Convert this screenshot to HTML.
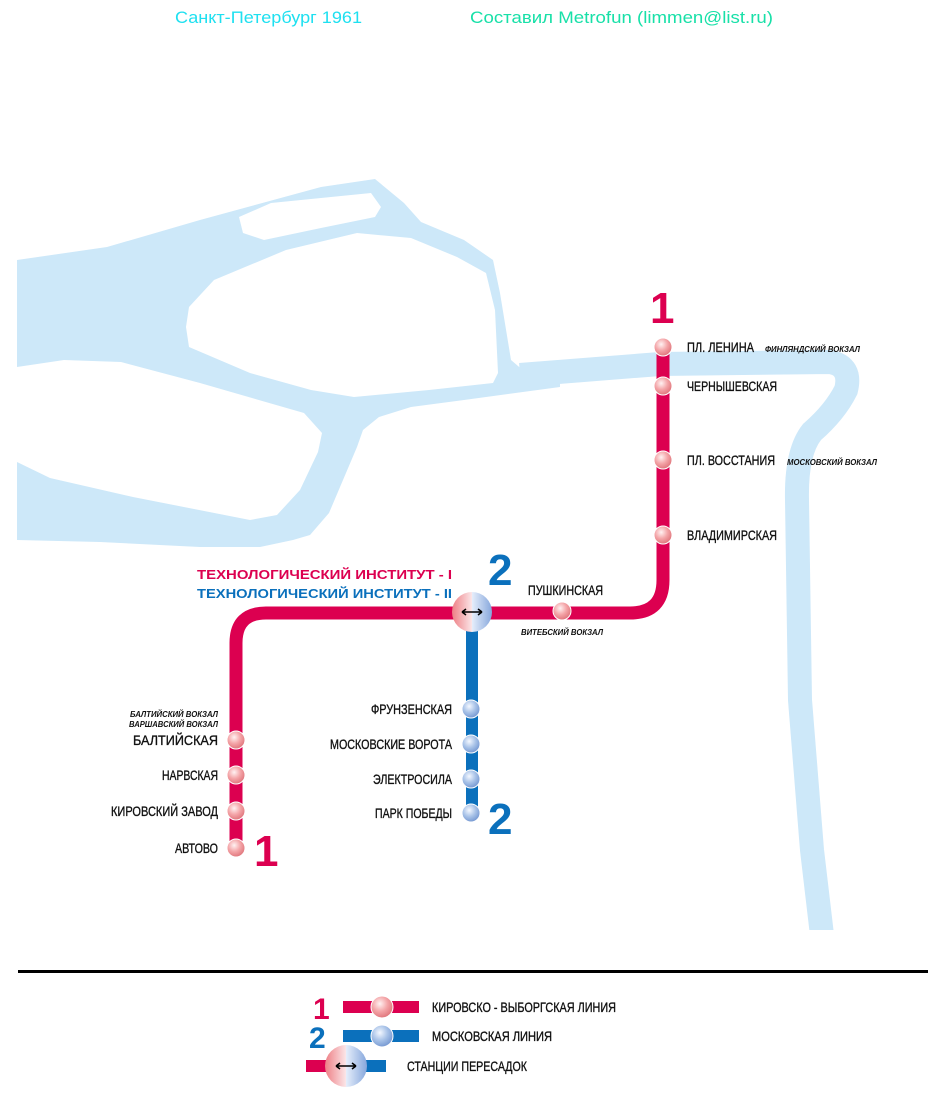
<!DOCTYPE html>
<html><head><meta charset="utf-8"><style>
html,body{margin:0;padding:0;background:#fff;}
svg{display:block;}
.st{font-family:"Liberation Sans",sans-serif;font-size:14px;fill:#111;stroke:#111;stroke-width:0.35px;}
.sm{font-family:"Liberation Sans",sans-serif;font-size:8px;font-style:italic;font-weight:bold;fill:#111;}
.num{font-family:"Liberation Sans",sans-serif;font-weight:bold;font-size:44px;}
</style></head><body>
<svg width="950" height="1100" viewBox="0 0 950 1100" xmlns="http://www.w3.org/2000/svg">
<defs>
<radialGradient id="rg" cx="0.4" cy="0.35" r="0.7">
<stop offset="0" stop-color="#fff2f2"/><stop offset="0.5" stop-color="#f4a5a8"/><stop offset="1" stop-color="#dd6f76"/></radialGradient>
<radialGradient id="bg" cx="0.4" cy="0.35" r="0.7">
<stop offset="0" stop-color="#f4f8ff"/><stop offset="0.5" stop-color="#a9c3e8"/><stop offset="1" stop-color="#6f93cf"/></radialGradient>
<linearGradient id="tg" x1="0" x2="1" y1="0" y2="0">
<stop offset="0" stop-color="#ee7f85"/><stop offset="0.5" stop-color="#fbe6e8"/><stop offset="0.5" stop-color="#e6eefb"/><stop offset="1" stop-color="#86a7dc"/></linearGradient>
</defs>
<text x="175" y="23" font-family="'Liberation Sans',sans-serif" font-size="17" fill="#1ee0f0" textLength="187" lengthAdjust="spacingAndGlyphs">Санкт-Петербург 1961</text>
<text x="470" y="23" font-family="'Liberation Sans',sans-serif" font-size="17" fill="#18e0a8" textLength="303" lengthAdjust="spacingAndGlyphs">Составил Metrofun (limmen@list.ru)</text>

<g fill="#cde8f9">
<path d="M17,260 L107,247 L200,220 L321,187 L375,179 L404,203 L421,222 L464,240 L493,260 L500,293 L511,360 L525,372 L560,368 L560,387 L464,400 L411,407 L379,417 L363,430 L357,447 L343,480 L329,513 L310,535 L293,540 L260,547 L200,547 L100,542 L17,540 Z"/>
</g>
<path d="M520,375 L660,364 L830,362 Q852,366 846,390 Q835,412 812,432 Q796,452 797,500 L800,700 L812,850 L822,935" fill="none" stroke="#cde8f9" stroke-width="24"/>
<rect x="780" y="930" width="70" height="20" fill="#fff"/>
<g fill="#fff">
<path d="M239,217 L271,203 L371,193 L381,207 L375,217 L321,228 L264,240 L243,233 Z"/>
<path d="M186,327 L189,307 L214,280 L286,250 L357,233 L411,238 L457,257 L486,273 L495,310 L498,373 L493,383 L429,390 L354,397 L311,390 L250,373 L189,347 Z"/>
<path d="M17,367 L64,360 L121,362 L200,383 L304,413 L322,433 L318,452 L300,490 L277,515 L250,520 L133,497 L50,478 L17,462 Z"/>
</g>

<path d="M236,850 L236,643 Q236,613 266,613 L630,613 Q663,613 663,580 L663,345" fill="none" stroke="#dc0050" stroke-width="13"/>
<path d="M472,613 L472,813" fill="none" stroke="#0b70bc" stroke-width="12"/>

<g fill="url(#rg)" stroke="#fff" stroke-width="1">
<circle cx="236" cy="740" r="9"/><circle cx="236" cy="775" r="9"/><circle cx="236" cy="811" r="9"/><circle cx="236" cy="848" r="9"/>
<circle cx="562" cy="611" r="9"/>
<circle cx="663" cy="347" r="9"/><circle cx="663" cy="386" r="9"/><circle cx="663" cy="460" r="9"/><circle cx="663" cy="535" r="9"/>
</g>
<g fill="url(#bg)" stroke="#fff" stroke-width="1">
<circle cx="471" cy="709" r="9"/><circle cx="471" cy="744" r="9"/><circle cx="471" cy="779" r="9"/><circle cx="471" cy="813" r="9"/>
</g>
<circle cx="472" cy="612" r="20" fill="url(#tg)"/>
<path d="M462,612 H482 M462,612 l4,-3 M462,612 l4,3 M482,612 l-4,-3 M482,612 l-4,3" stroke="#000" stroke-width="1.5" fill="none"/>

<text class="num" x="650" y="323" fill="#dc0050">1</text>
<text class="num" x="254" y="866" fill="#dc0050">1</text>
<text class="num" x="488" y="585" fill="#0b70bc">2</text>
<text class="num" x="488" y="834" fill="#0b70bc">2</text>

<text class="st" x="687" y="352" textLength="67" lengthAdjust="spacingAndGlyphs">ПЛ. ЛЕНИНА</text>
<text class="sm" x="765" y="352" textLength="95" lengthAdjust="spacingAndGlyphs">ФИНЛЯНДСКИЙ ВОКЗАЛ</text>
<text class="st" x="687" y="391" textLength="90" lengthAdjust="spacingAndGlyphs">ЧЕРНЫШЕВСКАЯ</text>
<text class="st" x="687" y="465" textLength="88" lengthAdjust="spacingAndGlyphs">ПЛ. ВОССТАНИЯ</text>
<text class="sm" x="787" y="465" textLength="90" lengthAdjust="spacingAndGlyphs">МОСКОВСКИЙ ВОКЗАЛ</text>
<text class="st" x="687" y="540" textLength="90" lengthAdjust="spacingAndGlyphs">ВЛАДИМИРСКАЯ</text>
<text class="st" x="528" y="595" textLength="75" lengthAdjust="spacingAndGlyphs">ПУШКИНСКАЯ</text>
<text class="sm" x="521" y="635" textLength="82" lengthAdjust="spacingAndGlyphs">ВИТЕБСКИЙ ВОКЗАЛ</text>
<text x="197" y="579" font-family="'Liberation Sans',sans-serif" font-weight="bold" font-size="13" fill="#dc0050" textLength="255" lengthAdjust="spacingAndGlyphs">ТЕХНОЛОГИЧЕСКИЙ ИНСТИТУТ -  I</text>
<text x="197" y="598" font-family="'Liberation Sans',sans-serif" font-weight="bold" font-size="13" fill="#0b70bc" textLength="255" lengthAdjust="spacingAndGlyphs">ТЕХНОЛОГИЧЕСКИЙ ИНСТИТУТ - II</text>
<text class="sm" x="130" y="717" textLength="88" lengthAdjust="spacingAndGlyphs">БАЛТИЙСКИЙ ВОКЗАЛ</text>
<text class="sm" x="129" y="727" textLength="89" lengthAdjust="spacingAndGlyphs">ВАРШАВСКИЙ ВОКЗАЛ</text>
<text class="st" x="133" y="745" textLength="85" lengthAdjust="spacingAndGlyphs">БАЛТИЙСКАЯ</text>
<text class="st" x="162" y="780" textLength="56" lengthAdjust="spacingAndGlyphs">НАРВСКАЯ</text>
<text class="st" x="111" y="816" textLength="107" lengthAdjust="spacingAndGlyphs">КИРОВСКИЙ ЗАВОД</text>
<text class="st" x="175" y="853" textLength="43" lengthAdjust="spacingAndGlyphs">АВТОВО</text>
<text class="st" x="371" y="714" textLength="81" lengthAdjust="spacingAndGlyphs">ФРУНЗЕНСКАЯ</text>
<text class="st" x="330" y="749" textLength="122" lengthAdjust="spacingAndGlyphs">МОСКОВСКИЕ ВОРОТА</text>
<text class="st" x="373" y="784" textLength="79" lengthAdjust="spacingAndGlyphs">ЭЛЕКТРОСИЛА</text>
<text class="st" x="375" y="818" textLength="77" lengthAdjust="spacingAndGlyphs">ПАРК ПОБЕДЫ</text>

<rect x="18" y="970" width="910" height="3" fill="#000"/>
<text x="313" y="1019" font-family="'Liberation Sans',sans-serif" font-weight="bold" font-size="30" fill="#dc0050">1</text>
<rect x="343" y="1001" width="76" height="12" fill="#dc0050"/>
<circle cx="382" cy="1007" r="11" fill="url(#rg)" stroke="#fff"/>
<text class="st" x="432" y="1012" font-size="13" textLength="184" lengthAdjust="spacingAndGlyphs">КИРОВСКО - ВЫБОРГСКАЯ  ЛИНИЯ</text>
<text x="309" y="1048" font-family="'Liberation Sans',sans-serif" font-weight="bold" font-size="30" fill="#0b70bc">2</text>
<rect x="343" y="1030" width="76" height="12" fill="#0b70bc"/>
<circle cx="382" cy="1036" r="11" fill="url(#bg)" stroke="#fff"/>
<text class="st" x="432" y="1041" font-size="13" textLength="120" lengthAdjust="spacingAndGlyphs">МОСКОВСКАЯ  ЛИНИЯ</text>
<rect x="306" y="1060" width="30" height="12" fill="#dc0050"/>
<rect x="360" y="1060" width="26" height="12" fill="#0b70bc"/>
<circle cx="346" cy="1066" r="21" fill="url(#tg)"/>
<path d="M336,1066 H356 M336,1066 l4,-3 M336,1066 l4,3 M356,1066 l-4,-3 M356,1066 l-4,3" stroke="#000" stroke-width="1.5" fill="none"/>
<text class="st" x="407" y="1071" font-size="13" textLength="120" lengthAdjust="spacingAndGlyphs">СТАНЦИИ ПЕРЕСАДОК</text>
</svg>
</body></html>
